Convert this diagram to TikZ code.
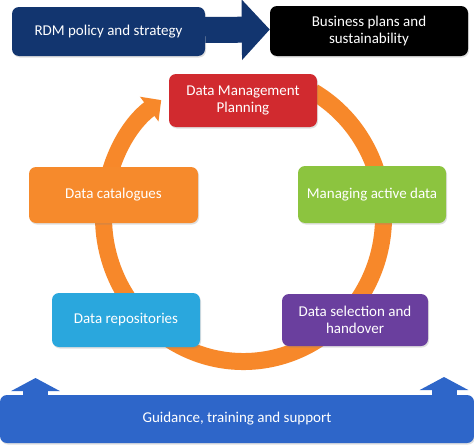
\documentclass[tikz,border=0pt]{standalone}
\usepackage{fontspec}
\setmainfont{Carlito}
\usetikzlibrary{arrows.meta,shadows}
\definecolor{navy}{HTML}{12356F}
\definecolor{dmpred}{HTML}{D12A2F}
\definecolor{ringor}{HTML}{F7882A}
\definecolor{catorange}{HTML}{F68A2C}
\definecolor{mgreen}{HTML}{8CC43F}
\definecolor{rcyan}{HTML}{2AA7DD}
\definecolor{spurple}{HTML}{6A3F9E}
\definecolor{gblue}{HTML}{2E66C9}
\begin{document}
\begin{tikzpicture}[x=1pt,y=-1pt,
  box/.style={rectangle, rounded corners=7pt, text=white, align=center,
    font=\fontsize{15}{17}\selectfont, inner sep=0pt,
    drop shadow={opacity=0.25, shadow xshift=1pt, shadow yshift=-1.5pt}},
  fatarrow/.style={line width=#1, line cap=butt}]
\useasboundingbox[fill=white] (0,0) rectangle (474,447);
% cycle ring
\draw[ringor, line width=17pt, -{Triangle[length=15pt,width=30pt]}]
  (243.5,217) ++(-60:140 and 144.5)
  arc[start angle=-60, end angle=234, x radius=140, y radius=144.5];
% top boxes
\node[box, fill=navy, minimum width=193pt, minimum height=49pt] (rdm) at (108.5,31.5) {RDM policy and strategy};
\node[box, fill=black, minimum width=198pt, minimum height=50pt] (biz) at (369,31) {Business plans and\\sustainability};
\draw[navy, fatarrow=26pt, -{Triangle[length=28pt,width=59pt]}]
  ([yshift=1.5pt]rdm.east) -- ([yshift=1.5pt]biz.west);
% cycle boxes
\node[box, fill=dmpred, minimum width=148pt, minimum height=53pt] (dmp) at (243,100.5) {Data Management\\Planning};
\node[box, fill=catorange, minimum width=169pt, minimum height=56pt] (cat) at (113.5,195) {Data catalogues};
\node[box, fill=mgreen, minimum width=148pt, minimum height=57pt] (mad) at (372,194.5) {Managing active data};
\node[box, fill=rcyan, minimum width=148pt, minimum height=54pt] (rep) at (126,320) {Data repositories};
\node[box, fill=spurple, minimum width=146pt, minimum height=52pt] (sel) at (355,320) {Data selection and\\handover};
% guidance
\coordinate (ul) at (35.5,400);
\coordinate (ult) at (35.5,378);
\coordinate (ur) at (444,400);
\coordinate (urt) at (444,377);
\draw[gblue, fatarrow=25pt, -{Triangle[length=13pt,width=48pt]}] (ul) -- (ult);
\draw[gblue, fatarrow=25pt, -{Triangle[length=13pt,width=48pt]}] (ur) -- (urt);
\node[box, fill=gblue, minimum width=474pt, minimum height=48pt] (gui) at (237,419) {Guidance, training and support};
\end{tikzpicture}
\end{document}
